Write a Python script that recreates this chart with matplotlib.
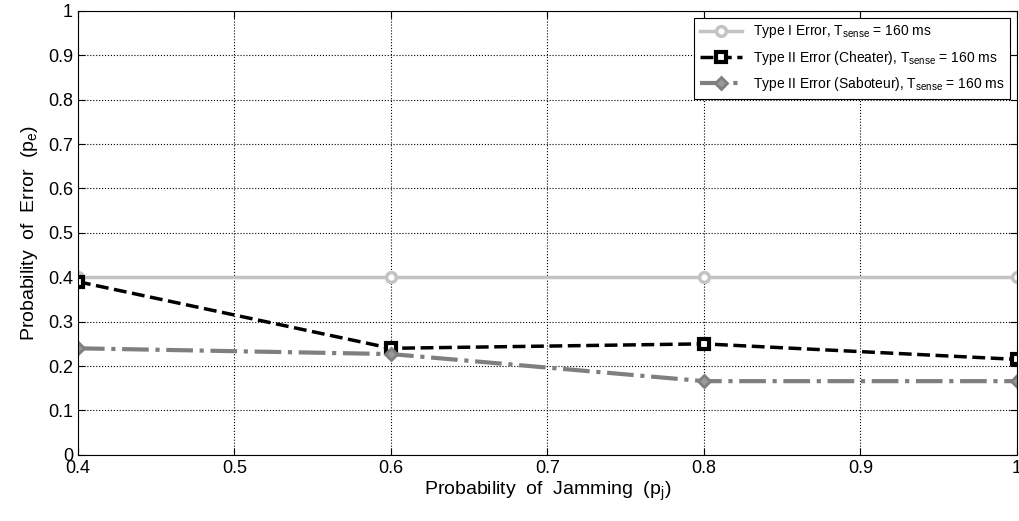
import matplotlib
matplotlib.use("Agg")
import matplotlib.pyplot as plt

plt.rcParams['font.family'] = ['Liberation Sans', 'DejaVu Sans']
plt.rcParams['mathtext.fontset'] = 'custom'
plt.rcParams['mathtext.rm'] = 'Liberation Sans'

p_jam = [0.4, 0.6, 0.8, 1.0]
type1 = [0.40, 0.40, 0.40, 0.40]
type2_cheater = [0.39, 0.24, 0.25, 0.215]
type2_saboteur = [0.24, 0.227, 0.166, 0.166]

fig = plt.figure(figsize=(10.19, 5.21), dpi=100)
ax = fig.add_axes([0.0765, 0.127, 0.9215, 0.852])

ax.plot(p_jam, type1, '-o', color='#c3c3c3', lw=2.5, ms=7,
        mfc='white', mec='#c3c3c3', mew=2.5,
        label=r'Type I Error, T$_{\mathregular{sense}}$ = 160 ms')
ax.plot(p_jam, type2_cheater, '--s', color='black', lw=2.5, ms=7,
        mfc='white', mec='black', mew=3,
        label=r'Type II Error (Cheater), T$_{\mathregular{sense}}$ = 160 ms')
ax.plot(p_jam, type2_saboteur, '-.D', color='#7f7f7f', lw=3, ms=6,
        mfc='#9a9a9a', mec='#7f7f7f', mew=2,
        label=r'Type II Error (Saboteur), T$_{\mathregular{sense}}$ = 160 ms')

ax.set_xlim(0.4, 1.0)
ax.set_ylim(0, 1)
ax.set_xticks([0.4, 0.5, 0.6, 0.7, 0.8, 0.9, 1.0])
ax.set_xticklabels(['0.4', '0.5', '0.6', '0.7', '0.8', '0.9', '1'])
ax.set_yticks([i / 10 for i in range(11)])
ax.set_yticklabels(['0'] + ['0.%d' % i for i in range(1, 10)] + ['1'])
ax.tick_params(direction='in', top=True, right=True, labelsize=13, length=5)
ax.grid(True, linestyle=':', color='black', lw=0.8)

ax.set_xlabel(r'Probability  of  Jamming  (p$_{\mathregular{j}}$)', fontsize=14, labelpad=2)
ax.set_ylabel(r'Probability  of  Error  (p$_{\mathregular{e}}$)', fontsize=14, labelpad=6)

leg = ax.legend(loc='upper right', fontsize=10, fancybox=False, framealpha=1,
                edgecolor='black', borderaxespad=0.5, handlelength=3.0,
                labelspacing=0.6)
leg.get_frame().set_linewidth(0.8)

fig.savefig('out.png', dpi=100)
